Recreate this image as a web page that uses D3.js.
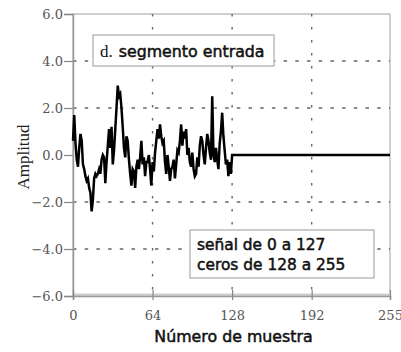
<!DOCTYPE html>
<html><head><meta charset="utf-8">
<script src="https://cdn.jsdelivr.net/npm/d3@7"></script>
<style>body{margin:0;background:#fff}svg{display:block}</style>
</head><body>
<svg id="c" width="401" height="352"></svg>
<script>
const signalValues = [
 0.6,1.7,0.5,-0.2,-0.5,0.3,0.9,0.6,-0.4,-0.6,-0.9,-1.1,-1.0,-1.4,-1.6,-2.4,
 -1.9,-1.0,-0.8,-0.9,-0.8,-0.6,-0.8,-0.2,0.0,-0.1,-1.2,-0.3,0.4,1.1,0.3,1.2,
 -0.4,0.2,1.1,2.0,2.95,2.5,2.6,2.0,1.2,0.3,-0.1,0.8,0.6,-0.2,-0.8,-1.3,
 -0.6,-0.7,-1.4,-0.5,-0.2,-0.6,-0.1,0.6,-0.4,-0.1,-0.9,-0.3,-0.3,0.0,-0.6,-1.3,
 -0.3,-0.7,0.1,0.6,1.1,0.7,1.3,0.8,0.5,0.6,-0.3,-0.8,0.0,-0.5,-1.1,-0.6,
 -0.5,-0.2,-1.0,-0.4,0.2,0.1,0.6,1.3,0.4,1.0,0.7,1.1,0.0,0.3,-0.3,-0.5,
 0.1,-0.6,-0.9,-0.8,-0.1,-0.5,0.4,0.8,0.6,0.0,-0.4,0.3,0.9,0.6,0.1,-0.2,
 2.5,0.0,-0.3,0.3,-0.2,-0.6,0.5,1.0,1.8,0.8,0.2,-0.4,-0.2,-0.9,-0.3,-0.8
];
const zeroCount = 128;
const xTicks = [0, 64, 128, 192, 255];
const yTicks = [-6, -4, -2, 0, 2, 4, 6];
const yGrid = [-4, -2, 2, 4];
const xGrid = [64, 128, 192];
const titleLabel = ["d.", "segmento entrada"];
const noteLines = ["señal de 0 a 127", "ceros de 128 a 255"];
const xLabel = "Número de muestra";
const yLabel = "Amplitud";

const data = signalValues.concat(new Array(zeroCount).fill(0)).map((v,i)=>({i, v}));

const svg = d3.select("#c");
const L = 73, R = 390, T = 14, B = 296;
const x = d3.scaleLinear().domain([0,255]).range([L,R]);
const y = d3.scaleLinear().domain([-6,6]).range([B,T]);

// plot frame
svg.append("rect").attr("x",L).attr("y",T).attr("width",R-L).attr("height",B-T)
  .attr("fill","none").attr("stroke","#b0b0b0").attr("stroke-width",1.2);
svg.append("line").attr("x1",L).attr("x2",R).attr("y1",B-1.5).attr("y2",B-1.5)
  .attr("stroke","#d0d0d0").attr("stroke-width",2);

// grid
svg.append("g").selectAll("line").data(yGrid).join("line")
  .attr("x1",L).attr("x2",R).attr("y1",d=>y(d)).attr("y2",d=>y(d))
  .attr("stroke","#666").attr("stroke-width",1.4).attr("stroke-dasharray","3.5,8.2");
svg.append("g").selectAll("line").data(xGrid).join("line")
  .attr("y1",T).attr("y2",B).attr("x1",d=>x(d)).attr("x2",d=>x(d))
  .attr("stroke","#666").attr("stroke-width",1.4).attr("stroke-dasharray","2.5,10.5");

// axes
const yAxis = svg.append("g").attr("transform",`translate(${L},0)`)
  .call(d3.axisLeft(y).tickValues(yTicks).tickFormat(d3.format(".1f")).tickSize(9).tickPadding(1));
const xAxis = svg.append("g").attr("transform",`translate(0,${B})`)
  .call(d3.axisBottom(x).tickValues(xTicks).tickFormat(d3.format("d")).tickSize(4).tickPadding(11));
[yAxis,xAxis].forEach(a=>{
  a.select(".domain").attr("stroke","#999").attr("stroke-width",1.5);
  a.selectAll(".tick line").attr("stroke","#888").attr("stroke-width",1.2);
  a.selectAll(".tick text").attr("fill","#555").attr("font-family","'DejaVu Serif',serif").attr("font-size",13);
});
xAxis.selectAll(".tick line").attr("y1",-6).attr("y2",4);

// signal
svg.append("path").datum(data)
  .attr("d", d3.line().x(d=>x(d.i)).y(d=>y(d.v)))
  .attr("fill","none").attr("stroke","#000").attr("stroke-width",2.5).attr("stroke-linejoin","miter");

// title box
const b1 = svg.append("g");
b1.append("rect").attr("x",93).attr("y",35).attr("width",181).attr("height",31)
  .attr("fill","#fff").attr("stroke","#aaa").attr("stroke-width",1.2);
const t1 = b1.append("text").attr("x",100).attr("y",57).attr("fill","#111");
t1.append("tspan").attr("font-family","'Liberation Serif',serif").attr("font-size",17).text(titleLabel[0]);
t1.append("tspan").attr("dx",6).attr("font-family","'DejaVu Sans',sans-serif").attr("font-size",15.8)
  .attr("stroke","#111").attr("stroke-width",0.5).text(titleLabel[1]);

// note box
const b2 = svg.append("g");
b2.append("rect").attr("x",190).attr("y",230).attr("width",184).attr("height",48)
  .attr("fill","#fff").attr("stroke","#aaa").attr("stroke-width",1.2);
b2.selectAll("text").data(noteLines).join("text")
  .attr("x",197).attr("y",(d,i)=>250+i*20).attr("fill","#111")
  .attr("font-family","'DejaVu Sans',sans-serif").attr("font-size",15.4)
  .attr("stroke","#111").attr("stroke-width",0.5).text(d=>d);

// axis labels
svg.append("text").attr("x",(L+R)/2+2).attr("y",342).attr("text-anchor","middle")
  .attr("font-family","'DejaVu Sans',sans-serif").attr("font-size",15.8)
  .attr("stroke","#111").attr("stroke-width",0.5).attr("fill","#111").text(xLabel);
svg.append("text").attr("transform","translate(29,157) rotate(-90)").attr("text-anchor","middle")
  .attr("font-family","'Liberation Serif',serif").attr("font-size",17).attr("fill","#222").text(yLabel);
</script>
</body></html>
